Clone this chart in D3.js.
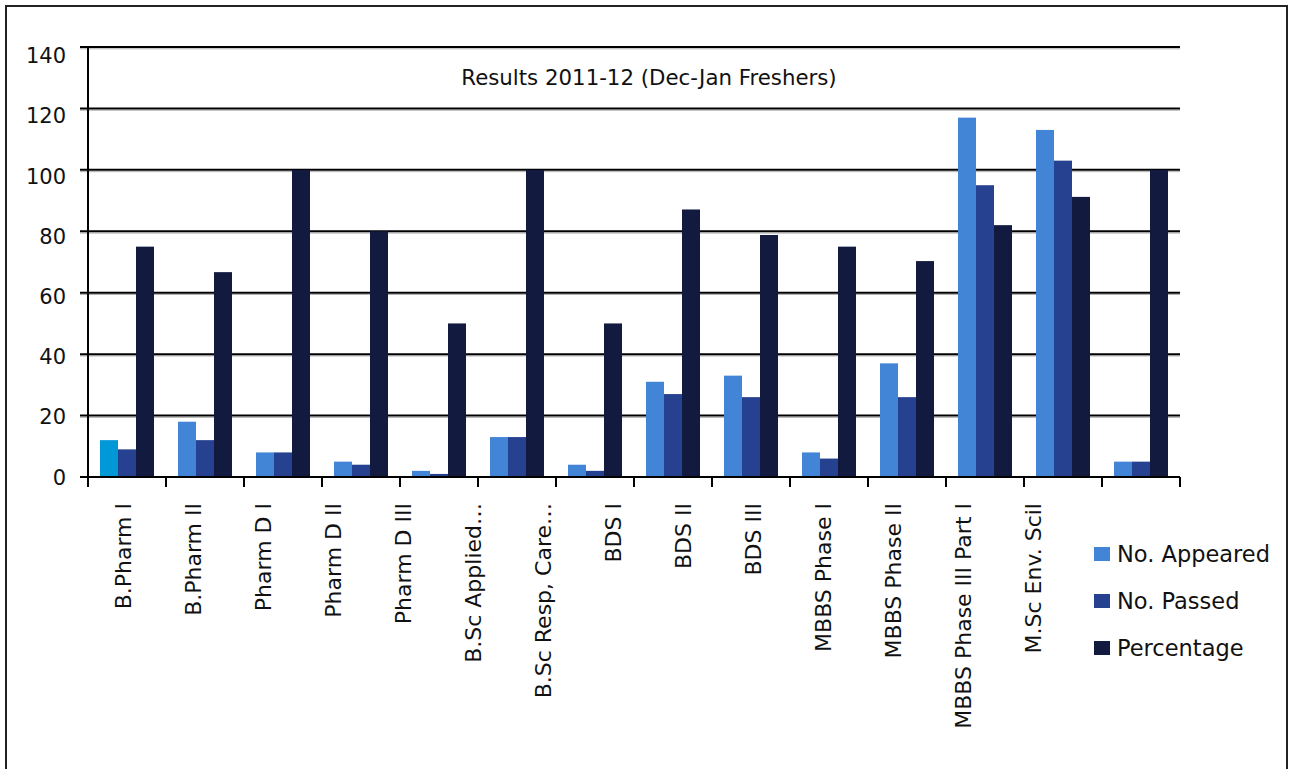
<!DOCTYPE html>
<html>
<head>
<meta charset="utf-8">
<script src="https://cdn.jsdelivr.net/npm/d3@7"></script>
<style>
  body { margin: 0; background: #fff; }
  text { font-family: "DejaVu Sans", sans-serif; fill: #111; }
</style>
</head>
<body>
<div id="chart"></div>
<script>
// data
const categories = ["B.Pharm I", "B.Pharm II", "Pharm D I", "Pharm D II", "Pharm D III",
    "B.Sc Applied…", "B.Sc Resp, Care…", "BDS I", "BDS II", "BDS III",
    "MBBS Phase I", "MBBS Phase II", "MBBS Phase III Part I", "M.Sc Env. Scil"];
const appeared = [12, 18, 8, 5, 2, 13, 4, 31, 33, 8, 37, 117, 113, 5];
const passed = [9, 12, 8, 4, 1, 13, 2, 27, 26, 6, 26, 95, 103, 5];
const percentage = [75, 66.7, 100, 80, 50, 100, 50, 87.1, 78.8, 75, 70.3, 82, 91.2, 100];
const seriesNames = ["No. Appeared", "No. Passed", "Percentage"];
const yTicks = [0, 20, 40, 60, 80, 100, 120, 140];

(function () {
    const colors = ["#4285d6", "#25418f", "#131a40"];

    const width = 1291, height = 769;
    const plotLeft = 88, plotRight = 1180, plotTop = 47, plotBottom = 477;

    const svg = d3.select("#chart").append("svg")
        .attr("width", width)
        .attr("height", height);

    // outer frame (bottom edge falls outside the picture)
    svg.append("path")
        .attr("d", `M6,${height + 5}V6H1287V${height + 5}`)
        .attr("fill", "none")
        .attr("stroke", "#222")
        .attr("stroke-width", 2);

    const x0 = d3.scaleBand()
        .domain(categories)
        .range([plotLeft, plotRight])
        .paddingInner(0)
        .paddingOuter(0);

    const x1 = d3.scaleBand()
        .domain(seriesNames)
        .range([0, x0.bandwidth()])
        .paddingOuter(0.667);

    const y = d3.scaleLinear()
        .domain([0, 140])
        .range([plotBottom, plotTop]);

    // the text layer of the original is laid out slightly tighter than the plot
    const xLabel = d3.scaleBand().domain(categories).range([plotLeft, 1068]);
    const yLabel = d3.scaleLinear().domain([0, 140]).range([plotBottom, 55.7]);

    // gridlines with a faint shadow
    const grid = svg.append("g");
    grid.selectAll("line.shadow").data(yTicks.filter(d => d > 0))
        .enter().append("line")
        .attr("class", "shadow")
        .attr("x1", 80).attr("x2", plotRight)
        .attr("y1", d => y(d) + 1.8).attr("y2", d => y(d) + 1.8)
        .attr("stroke", "#b0b0b0").attr("stroke-width", 1);
    grid.selectAll("line.main").data(yTicks)
        .enter().append("line")
        .attr("class", "main")
        .attr("x1", 80).attr("x2", plotRight)
        .attr("y1", d => y(d)).attr("y2", d => y(d))
        .attr("stroke", "#000").attr("stroke-width", 2);

    // bars
    const rows = categories.map((c, i) => ({
        cat: c, idx: i,
        values: [appeared[i], passed[i], percentage[i]]
    }));

    const groups = svg.append("g").selectAll("g").data(rows)
        .enter().append("g")
        .attr("transform", d => `translate(${x0(d.cat)},0)`);

    groups.selectAll("rect")
        .data(d => d.values.map((v, k) => ({ key: seriesNames[k], k, v, idx: d.idx })))
        .enter().append("rect")
        .attr("x", d => x1(d.key))
        .attr("y", d => y(d.v))
        .attr("width", x1.bandwidth())
        .attr("height", d => y(0) - y(d.v))
        .attr("fill", d => (d.idx === 0 && d.k === 0) ? "#0098d6" : colors[d.k]);

    // axis lines
    svg.append("line")
        .attr("x1", plotLeft).attr("x2", plotLeft)
        .attr("y1", plotTop).attr("y2", plotBottom + 10)
        .attr("stroke", "#000").attr("stroke-width", 2);
    svg.append("line")
        .attr("x1", 80).attr("x2", plotRight)
        .attr("y1", plotBottom).attr("y2", plotBottom)
        .attr("stroke", "#000").attr("stroke-width", 2);

    // x ticks at band edges
    const edges = categories.map(c => x0(c)).concat([x0.range()[1]]);
    svg.append("g").selectAll("line").data(edges)
        .enter().append("line")
        .attr("x1", d => d).attr("x2", d => d)
        .attr("y1", plotBottom).attr("y2", plotBottom + 10)
        .attr("stroke", "#000").attr("stroke-width", 2);

    // y tick labels
    svg.append("g").selectAll("text").data(yTicks)
        .enter().append("text")
        .attr("x", 66)
        .attr("y", d => yLabel(d))
        .attr("dy", "0.36em")
        .attr("text-anchor", "end")
        .style("font-size", "21px")
        .text(d => d);

    // x labels, rotated
    svg.append("g").selectAll("text").data(categories)
        .enter().append("text")
        .attr("transform", d => `translate(${xLabel(d) + xLabel.bandwidth() / 2},503) rotate(-90)`)
        .attr("dy", "0.36em")
        .attr("text-anchor", "end")
        .style("font-size", "22px")
        .text(d => d);

    // title
    svg.append("text")
        .attr("x", 649)
        .attr("y", 85)
        .attr("text-anchor", "middle")
        .style("font-size", "21.3px")
        .text("Results 2011-12 (Dec-Jan Freshers)");

    // legend
    const legendY = [554, 601, 648];
    const legend = svg.append("g").selectAll("g").data(seriesNames)
        .enter().append("g")
        .attr("transform", (d, i) => `translate(1094,${legendY[i]})`);
    legend.append("rect")
        .attr("x", 0).attr("y", -7)
        .attr("width", 16).attr("height", 14)
        .attr("fill", (d, i) => colors[i]);
    legend.append("text")
        .attr("x", 23)
        .attr("y", 0)
        .attr("dy", "0.36em")
        .style("font-size", "22.5px")
        .text(d => d);
})();
</script>
</body>
</html>
